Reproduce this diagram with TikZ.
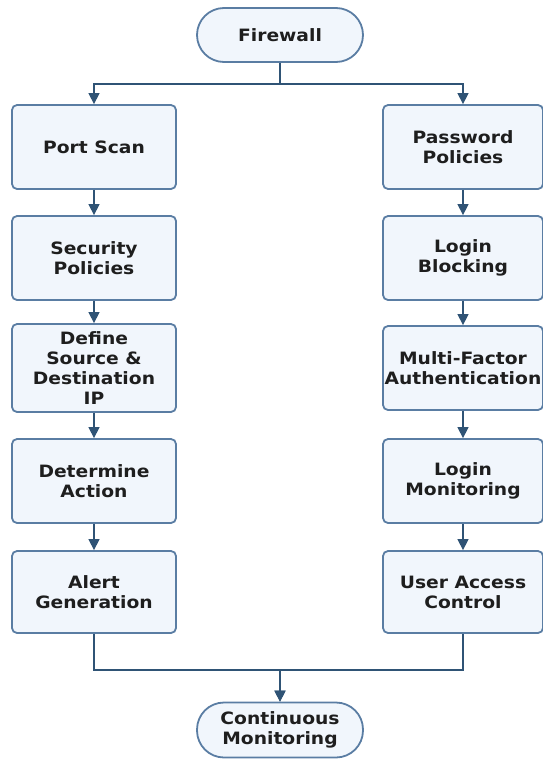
\documentclass[tikz,border=0pt]{standalone}
\usepackage{fontspec}
\newfontfamily\boxfont{DejaVu Sans}[FakeStretch=1.1]
\usetikzlibrary{arrows.meta}
\definecolor{boxline}{HTML}{5A7DA3}
\definecolor{boxfill}{HTML}{F1F6FC}
\definecolor{linkcol}{HTML}{2F5375}
\definecolor{txtcol}{HTML}{1E1E1E}
\tikzset{
  box/.style={draw=boxline, fill=boxfill, line width=1.8pt, rounded corners=5pt,
    minimum width=164pt, minimum height=84pt, inner sep=0pt, align=center,
    font=\boxfont\bfseries\fontsize{17}{20}\selectfont, text=txtcol},
  rbox/.style={box, minimum width=160pt},
  capsule/.style={box, rounded corners=27pt, minimum width=166pt, minimum height=54pt},
  link/.style={draw=linkcol, line width=1.4pt,
    -{Triangle[length=11pt,width=11pt]}}
}

\begin{document}
\begin{tikzpicture}[x=1pt,y=-1pt]
	%%%%% START %%%%%
	\useasboundingbox (0,0) rectangle (543,760);
	
	\node[capsule] (fw) at (280,35) {Firewall};
	
	\node[box] (ps) at (94,147) {Port Scan};
	\node[box] (sp) at (94,258) {Security\\Policies};
	\node[box, minimum height=88pt] (ds) at (94,368) {Define\\Source \&\\Destination\\IP};
	\node[box] (da) at (94,481) {Determine\\Action};
	\node[box, minimum height=82pt] (ag) at (94,592) {Alert\\Generation};
	
	\node[rbox] (pp) at (463,147) {Password\\Policies};
	\node[rbox] (lb) at (463,258) {Login\\Blocking};
	\node[rbox] (mf) at (463,368) {Multi-Factor\\Authentication};
	\node[rbox] (lm) at (463,481) {Login\\Monitoring};
	\node[rbox, minimum height=82pt] (uac) at (463,592) {User Access\\Control};
	
	\node[capsule, minimum height=55pt] (cm) at (280,730) {Continuous\\Monitoring};
	
	\draw[link] (fw.south) -- ++(0,21) -| (ps.north);
	\draw[link] (fw.south) -- ++(0,21) -| (pp.north);
	\foreach \a/\b in {ps/sp, sp/ds, ds/da, da/ag, pp/lb, lb/mf, mf/lm, lm/uac}
		\draw[link] (\a) -- (\b);
	\draw[link] (ag.south) -- ++(0,36) -| (cm.north);
	\draw[link] (uac.south) -- ++(0,36) -| (cm.north);
	%%%%% END %%%%%
\end{tikzpicture}
\end{document}
